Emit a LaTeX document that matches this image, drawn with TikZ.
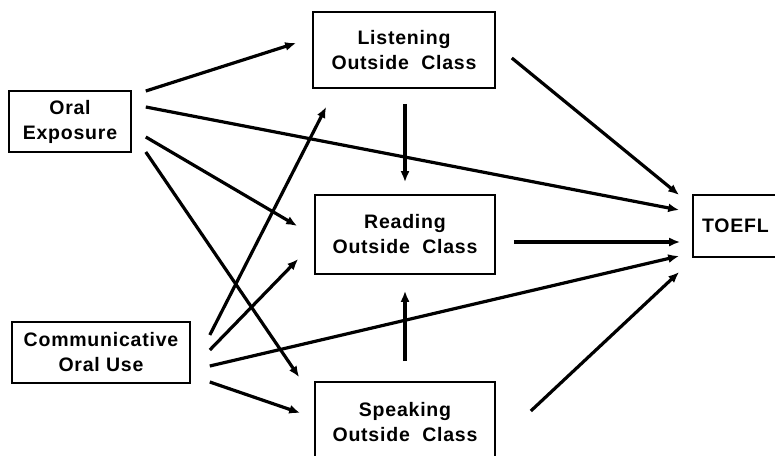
\documentclass[tikz,border=0pt]{standalone}
\usepackage{fontspec}
\setmainfont{Liberation Sans}[LetterSpace=4]
\usetikzlibrary{calc,arrows.meta}
\tikzset{
  box/.style={draw, line width=1.6pt, inner sep=0pt, align=center,
    font=\fontsize{19.5}{25}\selectfont\bfseries},
  arr/.style={line width=3.2pt, -{Latex[length=11pt,width=9pt]}}
}
\begin{document}
\begin{tikzpicture}[x=1pt,y=-1pt]
\clip (0,0) rectangle (775,455);
\fill[white] (0,0) rectangle (775,455);
\node[box, minimum width=122pt, minimum height=61pt] (oe) at (70,121.5) {Oral\\Exposure};
\node[box, minimum width=178pt, minimum height=61pt] (cou) at (101,352.5) {Communicative\\Oral Use};
\node[box, minimum width=182pt, minimum height=76pt] (lis) at (404,50) {Listening\\Outside\ \ Class};
\node[box, minimum width=180pt, minimum height=79pt] (rea) at (405,234.5) {Reading\\Outside\ \ Class};
\node[box, minimum width=180pt, minimum height=80pt] (spk) at (405,422) {Speaking\\Outside\ \ Class};
\node[box, minimum width=104pt, minimum height=62pt, text width=86pt, align=left] (toefl) at (745,226) {TOEFL};
% from Oral Exposure
\draw[arr] ($(oe.east)+(14,-30.5)$) -- ($(lis.west)+(-16,-7)$);
\draw[arr] ($(oe.east)+(14,-14.5)$) -- ($(toefl.west)+(-13,-16)$);
\draw[arr] ($(oe.east)+(14,15.5)$) -- ($(rea.west)+(-17,-8.5)$);
\draw[arr] ($(oe.east)+(14,30.5)$) -- ($(spk.north west)+(-15,-4)$);
% from Communicative Oral Use
\draw[arr] ($(cou.east)+(19,-17.5)$) -- ($(lis.south west)+(14,18)$);
\draw[arr] ($(cou.east)+(19,-2.5)$) -- ($(rea.west)+(-16,24.5)$);
\draw[arr] ($(cou.east)+(19,13.5)$) -- ($(toefl.west)+(-13,30)$);
\draw[arr] ($(cou.east)+(19,29.5)$) -- ($(spk.west)+(-14,-9)$);
% vertical
\draw[arr] ($(lis.south)+(1,15)$) -- ($(rea.north)+(0,-12)$);
\draw[arr] ($(spk.north)+(0,-20)$) -- ($(rea.south)+(0,16)$);
% to TOEFL
\draw[arr] ($(lis.east)+(16,8)$) -- ($(toefl.west)+(-13,-31)$);
\draw[arr] ($(rea.east)+(18,7.5)$) -- ($(toefl.west)+(-12,16)$);
\draw[arr] ($(spk.east)+(35,-11)$) -- ($(toefl.west)+(-13,46)$);
\end{tikzpicture}
\end{document}
